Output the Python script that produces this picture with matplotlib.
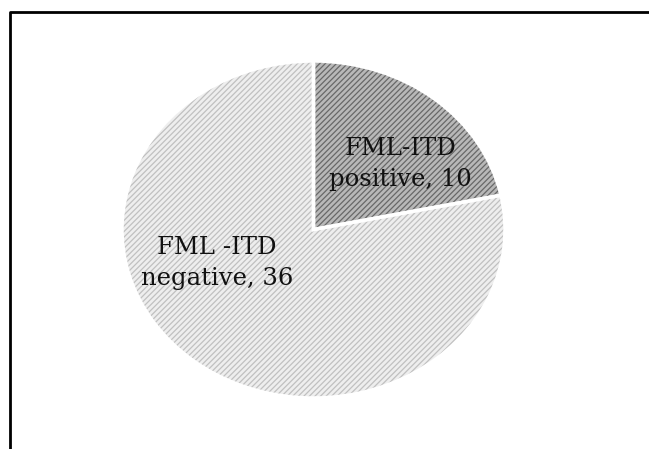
import matplotlib.pyplot as plt

# FML-ITD status counts
labels = ["FML-ITD\npositive, 10", "FML -ITD\nnegative, 36"]
counts = [10, 36]
face_colors = ["#b8b8b8", "#eeeeee"]
hatch_colors = ["#686868", "#c0c0c0"]

plt.rcParams["hatch.linewidth"] = 0.9

fig = plt.figure(figsize=(6.49, 4.49), dpi=100)

# outer frame (top and left edges only visible)
frame = fig.add_axes([0, 0, 1, 1])
frame.set_xlim(0, 649)
frame.set_ylim(449, 0)
frame.axis("off")
frame.plot([9.5, 9.5, 649], [449, 11.5, 11.5], color="black", lw=2)

# elliptical pie
ax = fig.add_axes([122 / 649, 51 / 449, 383 / 649, 337 / 449])
wedges, _ = ax.pie(counts, startangle=90, counterclock=False,
                   colors=face_colors, wedgeprops=dict(lw=0))
for w, hc in zip(wedges, hatch_colors):
    w.set_hatch("//////")
    w.set_edgecolor(hc)
    w.set_linewidth(0)
# white separators on top
ax.pie(counts, startangle=90, counterclock=False,
       colors=["none", "none"], wedgeprops=dict(lw=2.5, edgecolor="white"))
ax.set_aspect("auto")
ax.set_xlim(-1.0, 1.0)
ax.set_ylim(-1.0, 1.0)

fig.text(400 / 649, 1 - 164 / 449, labels[0], ha="center", va="center",
         fontsize=17.5, family="DejaVu Serif", linespacing=1.4, color="#111111")
fig.text(217 / 649, 1 - 263 / 449, labels[1], ha="center", va="center",
         fontsize=17.5, family="DejaVu Serif", linespacing=1.4, color="#111111")

fig.savefig("out.png", dpi=100)
